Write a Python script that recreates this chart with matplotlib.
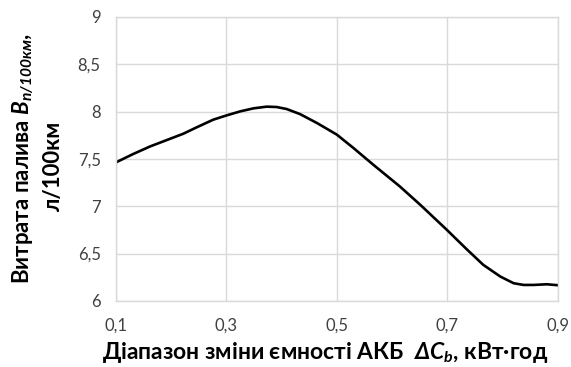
import numpy as np
import matplotlib
matplotlib.use("Agg")
import matplotlib.pyplot as plt

# fuel consumption vs. battery capacity swing
capacity = [0.100, 0.131, 0.162, 0.192, 0.222, 0.246, 0.276, 0.299, 0.325, 0.349,
            0.373, 0.391, 0.409, 0.433, 0.464, 0.500, 0.530, 0.566, 0.614, 0.651,
            0.699, 0.735, 0.765, 0.796, 0.820, 0.838, 0.856, 0.880, 0.900]
fuel = [7.463, 7.551, 7.632, 7.699, 7.766, 7.833, 7.914, 7.957, 8.002, 8.034,
        8.052, 8.048, 8.027, 7.974, 7.879, 7.756, 7.615, 7.438, 7.209, 7.015,
        6.751, 6.546, 6.381, 6.257, 6.187, 6.169, 6.169, 6.176, 6.166]

xticks = [0.1, 0.3, 0.5, 0.7, 0.9]
yticks = [6, 6.5, 7, 7.5, 8, 8.5, 9]

plt.rcParams['font.family'] = ['Lato', 'DejaVu Sans']
plt.rcParams['mathtext.fontset'] = 'custom'
plt.rcParams['mathtext.rm'] = 'Lato:bold'
plt.rcParams['mathtext.it'] = 'Lato:italic:bold'
plt.rcParams['mathtext.bf'] = 'Lato:bold'
plt.rcParams['mathtext.bfit'] = 'Lato:italic:bold'

fig = plt.figure(figsize=(5.71, 3.67), dpi=100)
ax = fig.add_axes([0.203, 0.180, 0.774, 0.774])

ax.plot(capacity, fuel, color='black', lw=1.9, solid_capstyle='round',
        solid_joinstyle='round')

ax.set_xlim(0.1, 0.9)
ax.set_ylim(6, 9)
ax.set_xticks(xticks)
ax.set_yticks(yticks)
ax.set_xticklabels([f'{v:g}'.replace('.', ',') for v in xticks])
ax.set_yticklabels([f'{v:g}'.replace('.', ',') for v in yticks])
ax.tick_params(length=0, labelsize=12, colors='#404040')
ax.tick_params(axis='y', pad=11)
ax.tick_params(axis='x', pad=12)
ax.grid(color='#d9d9d9', lw=1)
for s in ax.spines.values():
    s.set_color('#d9d9d9')
    s.set_linewidth(1)

fig.text(0.569, 0.006, r'Діапазон зміни ємності АКБ  $\mathbfit{\Delta C_b}$, кВт·год',
         ha='center', va='bottom', fontsize=16.5, fontweight='bold')
fig.text(0.040, 0.569, r'Витрата палива $\mathbfit{B_{п/100км}}$,',
         ha='center', va='center', rotation=90, fontsize=16, fontweight='bold')
fig.text(0.093, 0.548, 'л/100км',
         ha='center', va='center', rotation=90, fontsize=16, fontweight='bold')

fig.savefig('out.png', dpi=100)
